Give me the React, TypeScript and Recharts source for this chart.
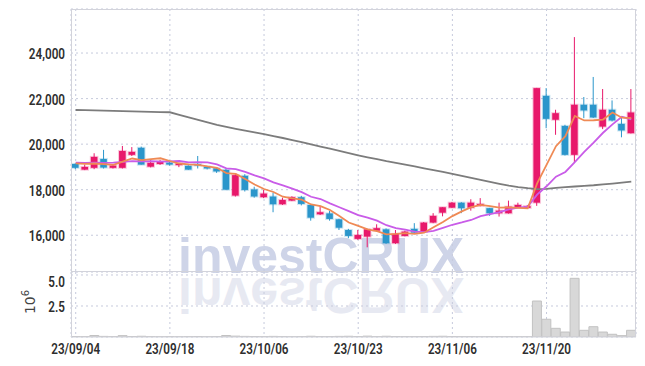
import { ComposedChart, Bar, Line, XAxis, YAxis, CartesianGrid } from 'recharts';

// trading days 2023-09-04 .. 2023-12-01
const dates = [
  '23/09/04', '23/09/05', '23/09/06', '23/09/07', '23/09/08', '23/09/11', '23/09/12', '23/09/13', '23/09/14', '23/09/15',
  '23/09/18', '23/09/19', '23/09/20', '23/09/21', '23/09/22', '23/09/25', '23/09/26', '23/09/27', '23/10/04', '23/10/05',
  '23/10/06', '23/10/10', '23/10/11', '23/10/12', '23/10/13', '23/10/16', '23/10/17', '23/10/18', '23/10/19', '23/10/20',
  '23/10/23', '23/10/24', '23/10/25', '23/10/26', '23/10/27', '23/10/30', '23/10/31', '23/11/01', '23/11/02', '23/11/03',
  '23/11/06', '23/11/07', '23/11/08', '23/11/09', '23/11/10', '23/11/13', '23/11/14', '23/11/15', '23/11/16', '23/11/17',
  '23/11/20', '23/11/21', '23/11/22', '23/11/23', '23/11/24', '23/11/27', '23/11/28', '23/11/29', '23/11/30', '23/12/01',
];
const tickDates = ['23/09/04', '23/09/18', '23/10/06', '23/10/23', '23/11/06', '23/11/20'];

const opens = [
  19130, 18880, 18960, 19350, 18960, 18960, 19530, 19840, 19010, 19130,
  19190, 19080, 19050, 19120, 19010, 18940, 18870, 17740, 18610, 18010,
  17670, 17700, 17360, 17520, 17670, 17330, 16920, 16960, 16700, 16230,
  15840, 15940, 16200, 16260, 15650, 15970, 16280, 16145, 16555, 16990,
  17210, 17430, 17210, 17290, 17190, 16965, 16965, 17230, 17200, 17430,
  22120, 21070, 20800, 19530, 21730, 21730, 20770, 21510, 20890, 20480,
];
const highs = [
  19160, 19100, 19600, 19750, 19130, 19920, 19870, 19890, 19310, 19300,
  19220, 19180, 19070, 19480, 19030, 18950, 18910, 18690, 18680, 18130,
  17990, 17870, 17650, 17710, 17730, 17350, 17290, 17070, 16720, 16280,
  16230, 16280, 16480, 16300, 16230, 16200, 16530, 16580, 16970, 17230,
  17460, 17450, 17580, 17630, 17200, 17430, 17520, 17430, 17330, 22470,
  22460, 21510, 20850, 24700, 22070, 22950, 22420, 21920, 21150, 22420,
];
const lows = [
  18900, 18860, 18900, 18930, 18930, 18930, 19480, 19100, 18980, 19090,
  19060, 18990, 18870, 18930, 18890, 18740, 18000, 17700, 17920, 17650,
  17630, 17010, 17330, 17500, 17310, 16640, 16890, 16640, 16230, 15870,
  15800, 15470, 16180, 15620, 15620, 15950, 16090, 16120, 16530, 16830,
  17200, 16970, 17080, 17270, 16850, 16820, 16950, 17200, 17180, 17290,
  20700, 20410, 19500, 19200, 21140, 21150, 20660, 21000, 20300, 20470,
];
const closes = [
  18960, 19000, 19440, 18970, 19060, 19700, 19660, 19100, 19180, 19235,
  19100, 19150, 18880, 19060, 18930, 18800, 18000, 18640, 17990, 17700,
  17830, 17360, 17550, 17670, 17375, 16770, 17010, 16715, 16330, 15970,
  16010, 16260, 16310, 15650, 16060, 16160, 16115, 16555, 16850, 17230,
  17430, 17185, 17430, 17375, 16965, 17080, 17255, 17330, 17280, 22460,
  21110, 21360, 19530, 21730, 21480, 21170, 21510, 21040, 20600, 21390,
];
// volume, millions of shares
const volumes = [
  0.04, 0.03, 0.12, 0.05, 0.03, 0.11, 0.04, 0.06, 0.03, 0.02,
  0.03, 0.02, 0.03, 0.04, 0.02, 0.03, 0.12, 0.07, 0.05, 0.04,
  0.03, 0.05, 0.03, 0.02, 0.03, 0.06, 0.03, 0.03, 0.05, 0.06,
  0.04, 0.07, 0.03, 0.06, 0.04, 0.03, 0.03, 0.04, 0.05, 0.06,
  0.04, 0.03, 0.03, 0.02, 0.03, 0.03, 0.03, 0.02, 0.02, 2.9,
  1.43, 0.7, 0.4, 4.73, 0.54, 0.83, 0.4, 0.22, 0.11, 0.54,
];
const ma5 = [
  19160, 19130, 19150, 19120, 19090, 19230, 19370, 19300, 19340, 19380,
  19260, 19150, 19110, 19090, 19020, 18960, 18730, 18690, 18470, 18230,
  18030, 17900, 17690, 17620, 17560, 17350, 17280, 17110, 16840, 16560,
  16410, 16260, 16180, 16040, 16060, 16090, 16060, 16110, 16350, 16580,
  16840, 17050, 17230, 17330, 17280, 17210, 17220, 17200, 17180, 18280,
  19090, 19910, 20350, 21240, 21040, 21050, 21080, 21390, 21160, 21140,
];
const ma10 = [
  19190, 19180, 19190, 19180, 19185, 19220, 19250, 19245, 19250, 19230,
  19245, 19260, 19200, 19210, 19200, 19110, 18940, 18900, 18780, 18630,
  18500, 18320, 18190, 18050, 17890, 17690, 17590, 17400, 17230, 17060,
  16880, 16770, 16640, 16440, 16310, 16250, 16160, 16140, 16190, 16320,
  16460, 16560, 16670, 16840, 16930, 17020, 17140, 17210, 17260, 17780,
  18150, 18570, 18780, 19210, 19660, 20070, 20500, 20870, 21200, 21090,
];
const maLong = [
  21500, 21490, 21480, 21470, 21460, 21450, 21440, 21430, 21420, 21410,
  21400, 21290, 21180, 21065, 20955, 20850, 20760, 20675, 20595, 20515,
  20435, 20355, 20270, 20180, 20090, 19990, 19895, 19800, 19700, 19605,
  19505, 19420, 19340, 19255, 19180, 19100, 19020, 18940, 18860, 18780,
  18695, 18605, 18520, 18430, 18340, 18255, 18175, 18115, 18065, 18025,
  18035, 18080, 18115, 18140, 18165, 18195, 18235, 18270, 18310, 18350,
];
const priceTicks = [16000, 18000, 20000, 22000, 24000];
const volumeTicks = [2.5, 5];

const data = dates.map((date, i) => ({
  date,
  open: opens[i],
  high: highs[i],
  low: lows[i],
  close: closes[i],
  volume: volumes[i],
  ma5: ma5[i],
  ma10: ma10[i],
  maLong: maLong[i],
}));

const RED = '#e8196b';
const BLUE = '#2b96cb';
const GRID = '#c6cadc';
const FRAME = '#d2d3db';
const FONT = "Roboto, 'DejaVu Sans', sans-serif";
const MARK_FONT = "'Liberation Sans', Arial, sans-serif";

// narrow, semi-bold tick text (squeezed horizontally)
const YTick = (props: any) => {
  const { x, y, payload, fmt } = props;
  return (
    <g transform={`translate(${x},${y})`}>
      <text transform="scale(0.78,1)" textAnchor="end" dy={6} fontSize={15} fontWeight={600} fill="#2e2e2e" fontFamily={FONT}>
        {fmt(payload.value)}
      </text>
    </g>
  );
};

const XTick = (props: any) => {
  const { x, y, payload } = props;
  return (
    <g transform={`translate(${x},${y})`}>
      <text transform="scale(0.78,1)" textAnchor="middle" dy={10} fontSize={15} fontWeight={600} fill="#2e2e2e" fontFamily={FONT}>
        {payload.value}
      </text>
    </g>
  );
};

const Candle = (props: any) => {
  const { x, y, width, height, payload } = props;
  if (!payload) return null;
  const { open, close, high, low } = payload;
  const color = close >= open ? RED : BLUE;
  const ratio = height / (high - low || 1);
  const top = y + (high - Math.max(open, close)) * ratio;
  const bottom = y + (high - Math.min(open, close)) * ratio;
  const cx = x + width / 2;
  return (
    <g>
      <line x1={cx} x2={cx} y1={y} y2={y + height} stroke={color} strokeWidth={1} />
      <rect
        x={x}
        y={top}
        width={width}
        height={Math.max(1, bottom - top)}
        fill={color}
        stroke={color}
        strokeOpacity={0.25}
        strokeWidth={2}
      />
    </g>
  );
};

const App = () => {
  const priceFmt = (v: number) => v.toLocaleString('en-US');
  const volFmt = (v: number) => v.toFixed(1);
  return (
    <div style={{ position: 'absolute', left: 0, top: 0, width: 645, height: 366, background: '#fff' }}>
      {/* watermark + reflection */}
      <div
        style={{
          position: 'absolute', left: 178, top: 238, fontSize: 50, lineHeight: '36px',
          fontWeight: 'bold', fontFamily: MARK_FONT, color: '#ced4e8', whiteSpace: 'nowrap',
        }}
      >
        investCRUX
      </div>
      <div
        style={{
          position: 'absolute', left: 178, top: 277, fontSize: 50, lineHeight: '36px',
          fontWeight: 'bold', fontFamily: MARK_FONT, color: '#e7e9f2', whiteSpace: 'nowrap',
          transform: 'scaleY(-1)',
        }}
      >
        investCRUX
      </div>

      <div style={{ position: 'absolute', left: 0, top: 0 }}>
        <ComposedChart width={645} height={272} data={data} margin={{ top: 9, right: 9, bottom: 0, left: 0 }}>
          <CartesianGrid stroke={GRID} strokeDasharray="2 3" />
          <XAxis dataKey="date" hide ticks={tickDates} interval={0} />
          <YAxis
            width={71}
            domain={[14386, 25934]}
            allowDataOverflow
            ticks={priceTicks}
            tick={<YTick fmt={priceFmt} />}
            tickLine={false}
            axisLine={false}
            tickSize={0}
            tickMargin={6}
          />
          <Bar
            dataKey={(d: any) => [d.low, d.high]}
            barSize={6.6}
            shape={Candle}
            isAnimationActive={false}
          />
          <Line type="linear" dataKey="maLong" stroke="#7c7c7c" strokeWidth={1.8} dot={false} isAnimationActive={false} />
          <Line type="linear" dataKey="ma10" stroke="#c95ce8" strokeWidth={1.8} dot={false} isAnimationActive={false} />
          <Line type="linear" dataKey="ma5" stroke="#ef8a55" strokeWidth={1.8} dot={false} isAnimationActive={false} />
        </ComposedChart>
      </div>

      <div style={{ position: 'absolute', left: 0, top: 272 }}>
        <ComposedChart width={645} height={94} data={data} margin={{ top: 0, right: 9, bottom: 0, left: 0 }} barCategoryGap={0}>
          <CartesianGrid stroke={GRID} strokeDasharray="2 3" />
          <XAxis
            dataKey="date"
            ticks={tickDates}
            interval={0}
            height={29}
            tick={<XTick />}
            tickLine={false}
            axisLine={{ stroke: FRAME }}
            tickSize={0}
            tickMargin={7}
          />
          <YAxis
            width={71}
            domain={[0, 5.24]}
            allowDataOverflow
            ticks={volumeTicks}
            tick={<YTick fmt={volFmt} />}
            tickLine={false}
            axisLine={false}
            tickSize={0}
            tickMargin={6}
          />
          <Bar dataKey="volume" fill="#d8d8d8" stroke="#c2c2c2" strokeWidth={1} isAnimationActive={false} />
        </ComposedChart>
      </div>

      {/* panel frames */}
      <div style={{ position: 'absolute', left: 71, top: 9, width: 565, height: 263, boxSizing: 'border-box', border: `1px solid ${FRAME}`, pointerEvents: 'none' }} />
      <div style={{ position: 'absolute', left: 71, top: 271, width: 565, height: 66, boxSizing: 'border-box', borderLeft: `1px solid ${FRAME}`, borderRight: `1px solid ${FRAME}`, borderTop: `1px solid ${FRAME}`, pointerEvents: 'none' }} />

      <svg style={{ position: 'absolute', left: 0, top: 0, pointerEvents: 'none' }} width={645} height={366}>
        <text
          x={35}
          y={302}
          transform="rotate(-90 35 302)"
          textAnchor="middle"
          fontSize={14}
          fill="#444"
          fontFamily="'DejaVu Sans', sans-serif"
        >
          10<tspan dy={-6} fontSize={10}>6</tspan>
        </text>
      </svg>
    </div>
  );
};

export default App;
